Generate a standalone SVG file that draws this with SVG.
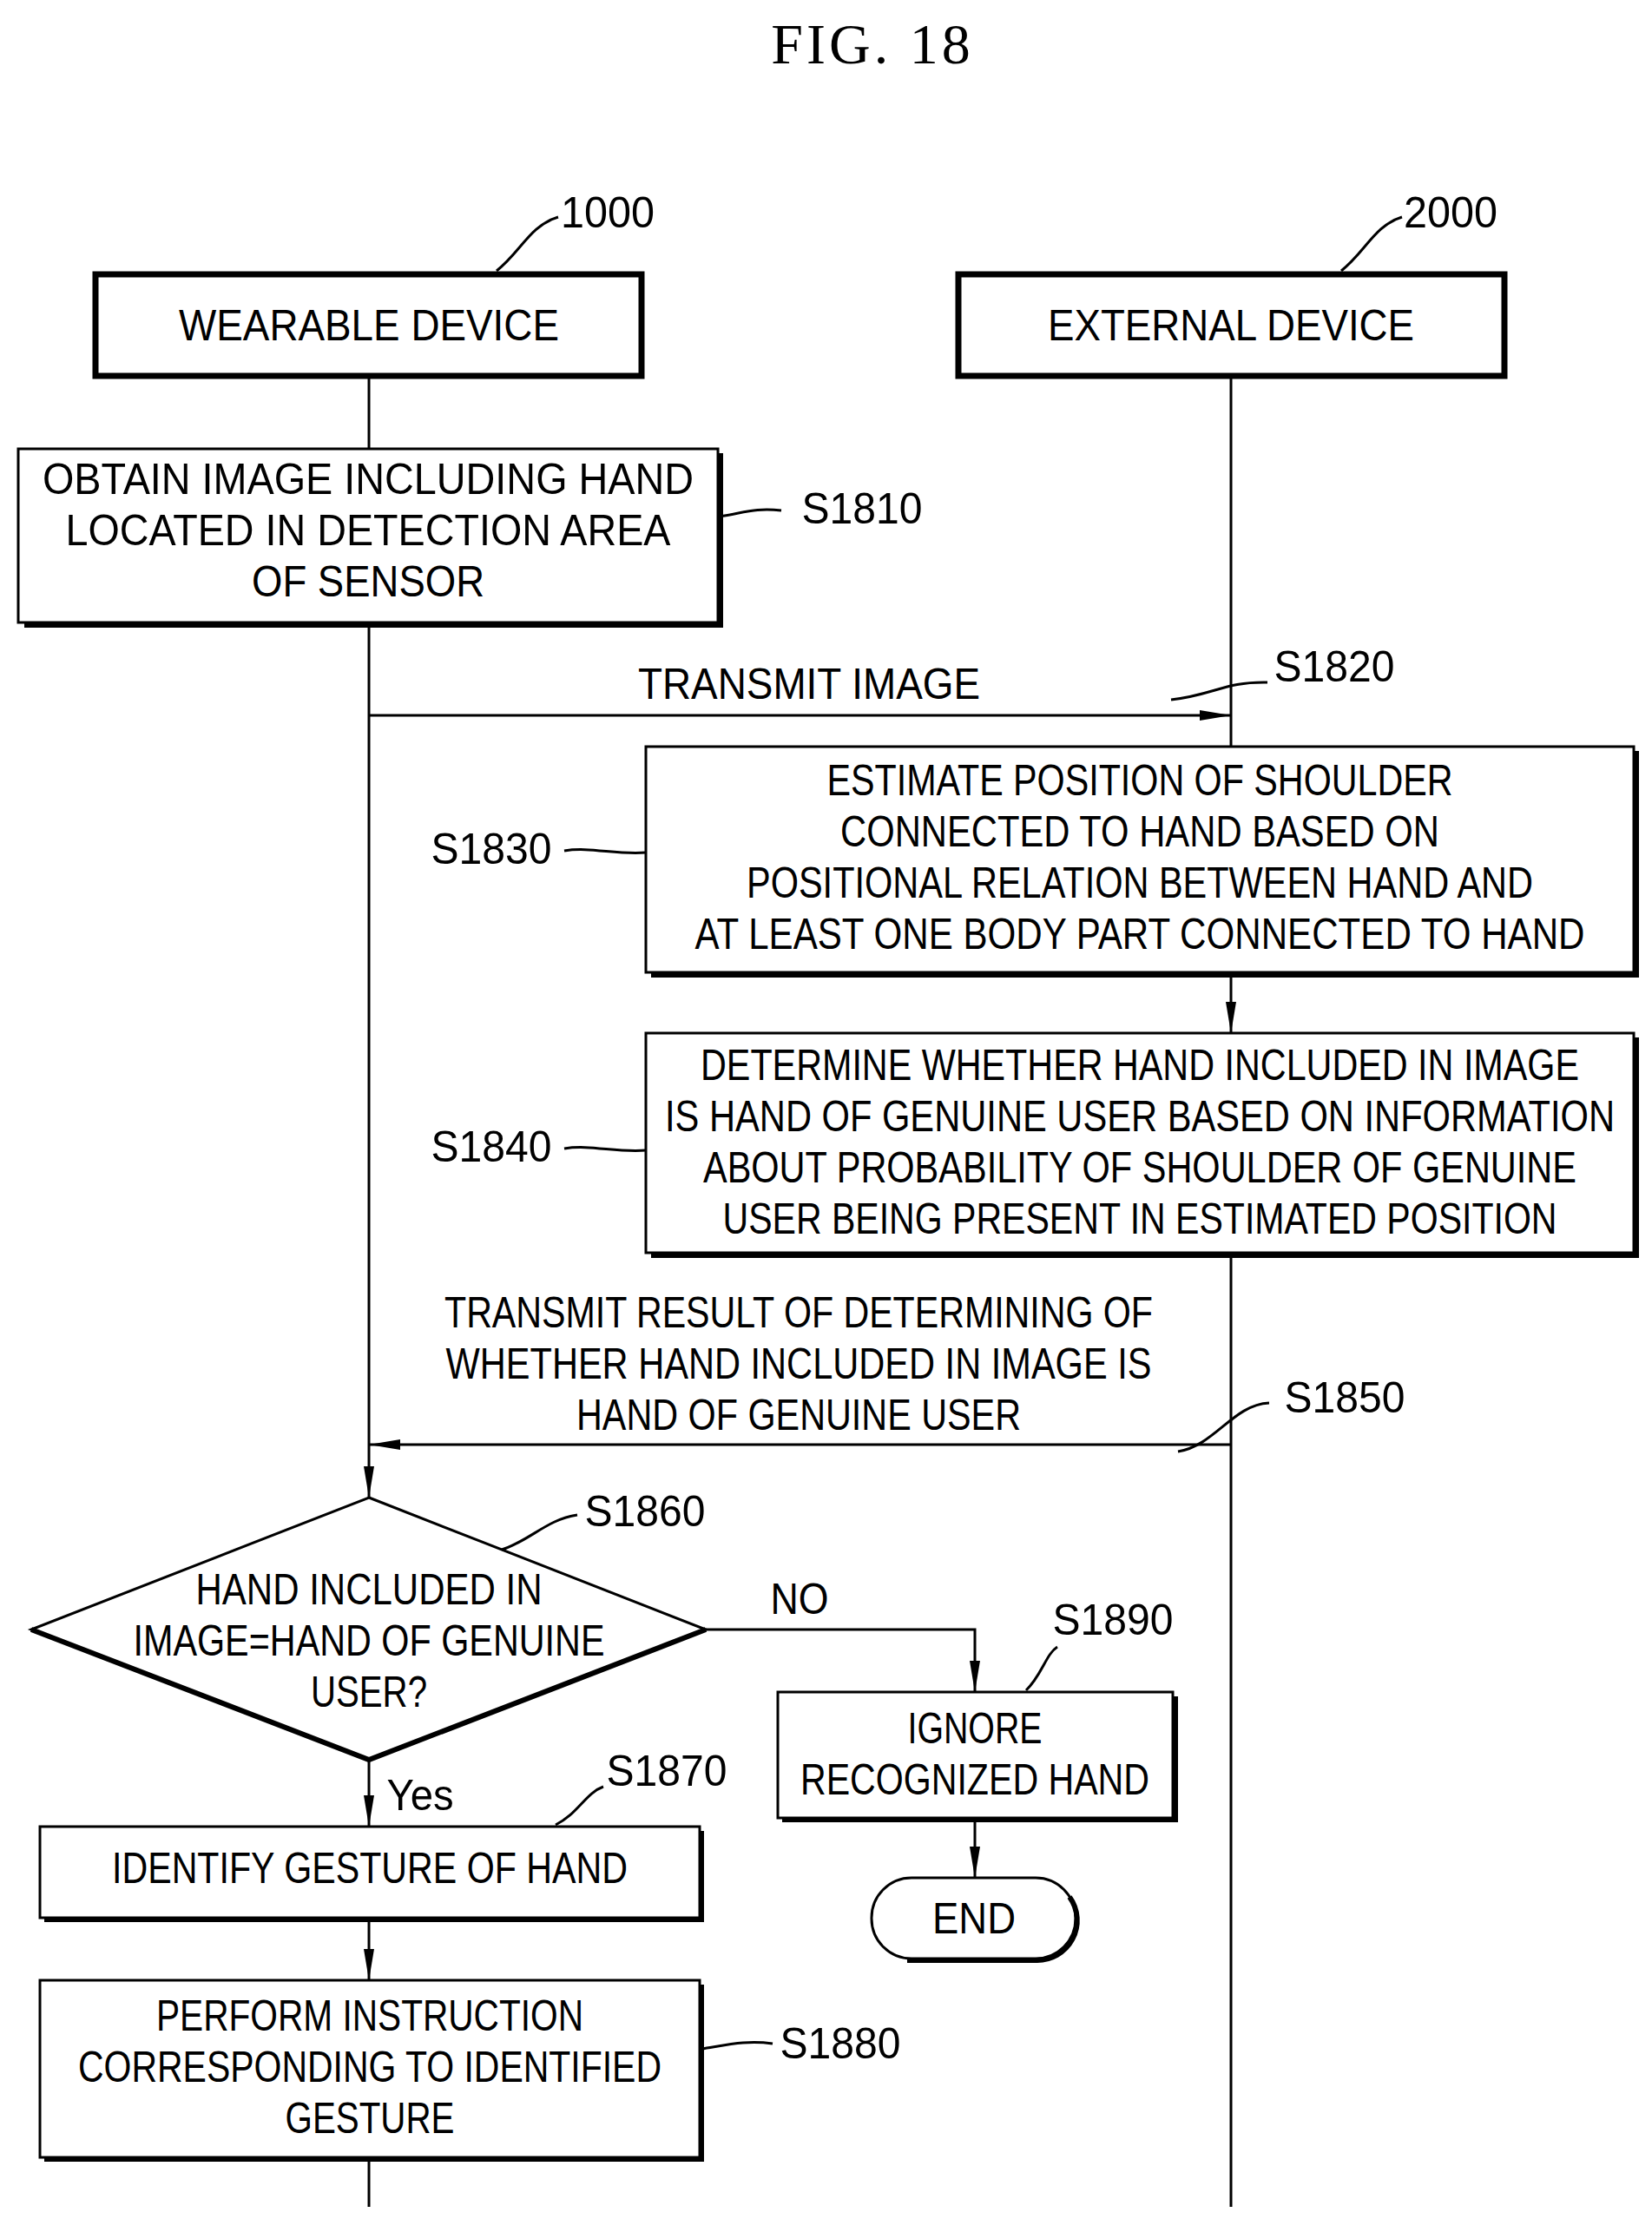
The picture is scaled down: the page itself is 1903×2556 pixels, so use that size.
<svg xmlns="http://www.w3.org/2000/svg" width="1903" height="2556" viewBox="0 0 1903 2556">
<style>
text{font-family:"Liberation Sans",Arial,sans-serif;font-size:50px;fill:#000;text-anchor:middle;dominant-baseline:central}
.t{font-family:"Liberation Serif","Times New Roman",serif;font-size:66px;letter-spacing:4px}
.b{fill:#fff;stroke:#000;stroke-width:3}
.sh{fill:none;stroke:#000;stroke-width:6}
.hd{fill:#fff;stroke:#000;stroke-width:7}
.l{fill:none;stroke:#000;stroke-width:3}
</style>
<defs><marker id="ab" markerWidth="36" markerHeight="14" refX="36" refY="7" orient="auto" markerUnits="userSpaceOnUse"><path d="M0,1 L36,7 L0,13z"/></marker></defs>
<text class="t" x="1005" y="50">FIG.  18</text>
<g id="connectors">
<line class="l" x1="425" y1="433" x2="425" y2="517"/>
<line class="l" x1="425" y1="719" x2="425" y2="1725" marker-end="url(#ab)"/>
<line class="l" x1="1418" y1="433" x2="1418" y2="860"/>
<line class="l" x1="425" y1="824" x2="1418" y2="824" marker-end="url(#ab)"/>
<line class="l" x1="1418" y1="1122" x2="1418" y2="1190" marker-end="url(#ab)"/>
<line class="l" x1="1418" y1="1445" x2="1418" y2="2542"/>
<line class="l" x1="1418" y1="1664" x2="425" y2="1664" marker-end="url(#ab)"/>
<polyline class="l" points="813,1877 1123,1877 1123,1949" marker-end="url(#ab)"/>
<line class="l" x1="1123" y1="2094" x2="1123" y2="2163" marker-end="url(#ab)"/>
<line class="l" x1="425" y1="2027" x2="425" y2="2104" marker-end="url(#ab)"/>
<line class="l" x1="425" y1="2209" x2="425" y2="2281" marker-end="url(#ab)"/>
<line class="l" x1="425" y1="2485" x2="425" y2="2542"/>
<path class="l" d="M1349,806 C1400,800 1410,785 1460,786"/>
<path class="l" d="M1357,1672 C1400,1665 1420,1618 1462,1616"/>
</g>
<g id="n1000"><rect class="hd" x="110" y="316" width="629" height="117"/><text x="425" y="375" textLength="438" lengthAdjust="spacingAndGlyphs">WEARABLE DEVICE</text><text x="700" y="245" textLength="108" lengthAdjust="spacingAndGlyphs">1000</text><path class="l" d="M572,312 C600,290 610,260 643,250"/></g>
<g id="n2000"><rect class="hd" x="1104" y="316" width="629" height="117"/><text x="1418" y="375" textLength="422" lengthAdjust="spacingAndGlyphs">EXTERNAL DEVICE</text><text x="1671" y="245" textLength="108" lengthAdjust="spacingAndGlyphs">2000</text><path class="l" d="M1545,312 C1573,290 1583,260 1615,250"/></g>
<g id="s1810"><polyline class="sh" points="28,720 830,720 830,522"/><rect class="b" x="21" y="517" width="806" height="200"/>
<text x="424" y="552" textLength="750" lengthAdjust="spacingAndGlyphs">OBTAIN IMAGE INCLUDING HAND</text><text x="424" y="611" textLength="697" lengthAdjust="spacingAndGlyphs">LOCATED IN DETECTION AREA</text><text x="424" y="670" textLength="268" lengthAdjust="spacingAndGlyphs">OF SENSOR</text>
<path class="l" d="M829,595 C860,590 870,585 900,588"/><text x="993" y="586" textLength="139" lengthAdjust="spacingAndGlyphs">S1810</text></g>
<g id="s1820"><text x="932" y="788" textLength="394" lengthAdjust="spacingAndGlyphs">TRANSMIT IMAGE</text><text x="1537" y="768" textLength="139" lengthAdjust="spacingAndGlyphs">S1820</text></g>
<g id="s1830"><polyline class="sh" points="750,1123 1885,1123 1885,865"/><rect class="b" x="744" y="860" width="1138" height="260"/>
<text x="1313" y="899" textLength="721" lengthAdjust="spacingAndGlyphs">ESTIMATE POSITION OF SHOULDER</text><text x="1313" y="958" textLength="690" lengthAdjust="spacingAndGlyphs">CONNECTED TO HAND BASED ON</text><text x="1313" y="1017" textLength="906" lengthAdjust="spacingAndGlyphs">POSITIONAL RELATION BETWEEN HAND AND</text><text x="1313" y="1076" textLength="1025" lengthAdjust="spacingAndGlyphs">AT LEAST ONE BODY PART CONNECTED TO HAND</text>
<text x="566" y="978" textLength="139" lengthAdjust="spacingAndGlyphs">S1830</text><path class="l" d="M650,980 C680,975 710,985 744,982"/></g>
<g id="s1840"><polyline class="sh" points="750,1446 1885,1446 1885,1195"/><rect class="b" x="744" y="1190" width="1138" height="253"/>
<text x="1313" y="1227" textLength="1012" lengthAdjust="spacingAndGlyphs">DETERMINE WHETHER HAND INCLUDED IN IMAGE</text><text x="1313" y="1286" textLength="1094" lengthAdjust="spacingAndGlyphs">IS HAND OF GENUINE USER BASED ON INFORMATION</text><text x="1313" y="1345" textLength="1006" lengthAdjust="spacingAndGlyphs">ABOUT PROBABILITY OF SHOULDER OF GENUINE</text><text x="1313" y="1404" textLength="961" lengthAdjust="spacingAndGlyphs">USER BEING PRESENT IN ESTIMATED POSITION</text>
<text x="566" y="1321" textLength="139" lengthAdjust="spacingAndGlyphs">S1840</text><path class="l" d="M650,1323 C680,1318 710,1328 744,1325"/></g>
<g id="s1850"><text x="920" y="1512" textLength="816" lengthAdjust="spacingAndGlyphs">TRANSMIT RESULT OF DETERMINING OF</text><text x="920" y="1571" textLength="813" lengthAdjust="spacingAndGlyphs">WHETHER HAND INCLUDED IN IMAGE IS</text><text x="920" y="1630" textLength="512" lengthAdjust="spacingAndGlyphs">HAND OF GENUINE USER</text><text x="1549" y="1610" textLength="139" lengthAdjust="spacingAndGlyphs">S1850</text></g>
<g id="s1860"><polygon points="425,1725 813,1877 425,2027 36,1877" fill="#fff" stroke="#000" stroke-width="3"/><polyline class="sh" points="36,1877 425,2027 813,1877"/>
<text x="425" y="1831" textLength="399" lengthAdjust="spacingAndGlyphs">HAND INCLUDED IN</text><text x="425" y="1890" textLength="543" lengthAdjust="spacingAndGlyphs">IMAGE=HAND OF GENUINE</text><text x="425" y="1949" textLength="134" lengthAdjust="spacingAndGlyphs">USER?</text>
<path class="l" d="M578,1785 C610,1775 630,1750 665,1745"/><text x="743" y="1741" textLength="139" lengthAdjust="spacingAndGlyphs">S1860</text>
<text x="921" y="1842" textLength="67" lengthAdjust="spacingAndGlyphs">NO</text><text x="484" y="2068" textLength="77" lengthAdjust="spacingAndGlyphs">Yes</text></g>
<g id="s1890"><polyline class="sh" points="901,2096 1354,2096 1354,1954"/><rect class="b" x="896" y="1949" width="455" height="145"/>
<text x="1123" y="1991" textLength="155" lengthAdjust="spacingAndGlyphs">IGNORE</text><text x="1123" y="2050" textLength="402" lengthAdjust="spacingAndGlyphs">RECOGNIZED HAND</text>
<path class="l" d="M1182,1947 C1200,1930 1205,1905 1218,1897"/><text x="1282" y="1866" textLength="139" lengthAdjust="spacingAndGlyphs">S1890</text></g>
<g id="end"><rect x="1004" y="2163" width="235" height="93" rx="46" fill="#fff" stroke="#000" stroke-width="3"/><path class="sh" d="M1232,2185 A46,46 0 0 1 1193,2258 L1045,2258"/><text x="1122" y="2210" textLength="96" lengthAdjust="spacingAndGlyphs">END</text></g>
<g id="s1870"><polyline class="sh" points="51,2211 808,2211 808,2109"/><rect class="b" x="46" y="2104" width="760" height="105"/>
<text x="426" y="2152" textLength="594" lengthAdjust="spacingAndGlyphs">IDENTIFY GESTURE OF HAND</text>
<path class="l" d="M640,2102 C665,2090 675,2065 695,2058"/><text x="768" y="2040" textLength="139" lengthAdjust="spacingAndGlyphs">S1870</text></g>
<g id="s1880"><polyline class="sh" points="51,2487 808,2487 808,2286"/><rect class="b" x="46" y="2281" width="760" height="204"/>
<text x="426" y="2322" textLength="492" lengthAdjust="spacingAndGlyphs">PERFORM INSTRUCTION</text><text x="426" y="2381" textLength="672" lengthAdjust="spacingAndGlyphs">CORRESPONDING TO IDENTIFIED</text><text x="426" y="2440" textLength="195" lengthAdjust="spacingAndGlyphs">GESTURE</text>
<path class="l" d="M808,2360 C840,2355 860,2350 890,2354"/><text x="968" y="2354" textLength="139" lengthAdjust="spacingAndGlyphs">S1880</text></g>
</svg>
